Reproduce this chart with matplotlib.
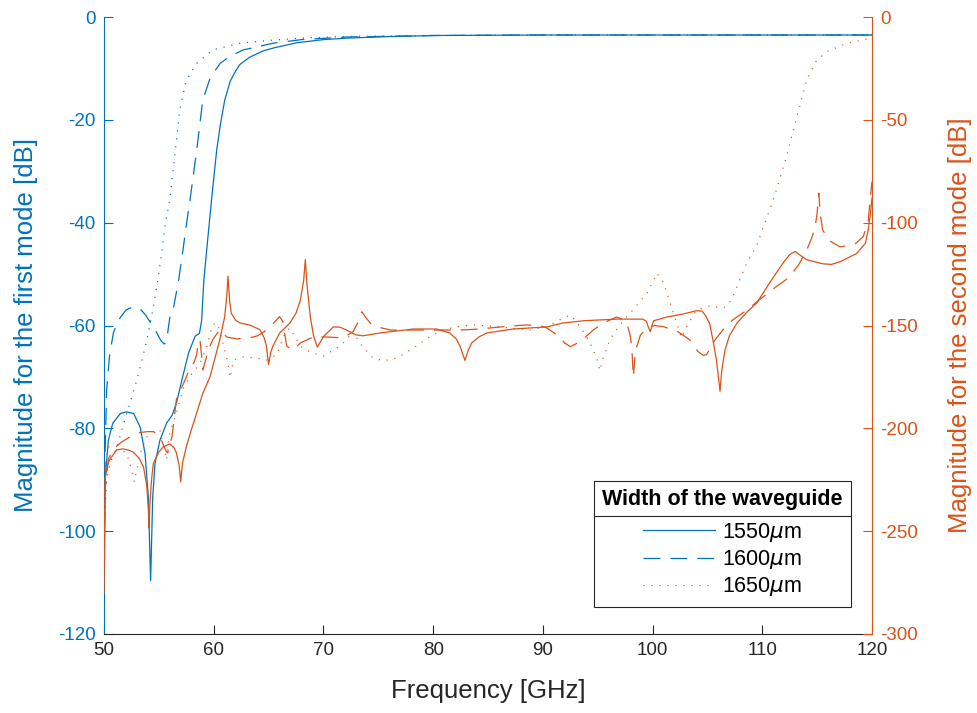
import matplotlib
matplotlib.use('Agg')
import matplotlib.pyplot as plt
from matplotlib.lines import Line2D

plt.rcParams['font.family'] = ['Liberation Sans', 'DejaVu Sans']
plt.rcParams['axes.unicode_minus'] = False

# ---------------- data ----------------
# First mode (left axis, dB)
f1_1550 = [50.0, 50.1, 50.4, 50.8, 51.5, 52.07, 52.7, 53.3, 53.74, 54.04, 54.25, 54.44, 54.65,
           55.1, 55.7, 56.2, 56.6, 57.1, 57.7, 58.3, 58.7, 58.9, 59.1, 59.36, 59.8, 60.27, 60.6,
           61.0, 61.5, 62.0, 62.4, 63.3, 64.5, 65.5, 67.6, 70.0, 72.2, 76.0, 80.0, 90.0, 100.0,
           110.0, 120.0]
m1_1550 = [-118, -90, -82.3, -79, -77.1, -76.8, -77.1, -79.8, -84.9, -93.4, -109.6, -93.4, -86.8,
           -82.3, -79.0, -77.5, -75.1, -70.6, -65.4, -62.1, -61.5, -59, -51.2, -45.3, -35.6, -25.9,
           -21, -16.2, -12.5, -10.5, -9.2, -7.8, -6.6, -6.0, -5.0, -4.4, -4.1, -3.8, -3.6, -3.5,
           -3.5, -3.5, -3.5]

f1_1600 = [50.0, 50.1, 50.24, 50.5, 50.85, 51.2, 51.5, 52.0, 52.6, 53.0, 53.4, 53.8, 54.2, 54.6,
           54.9, 55.2, 55.5, 55.7, 56.0, 56.3, 56.8, 57.2, 57.5, 57.84, 58.45, 59.0, 59.7, 60.6,
           61.5, 62.7, 65.4, 68.0, 72.0, 80.0, 90.0, 100.0, 110.0, 120.0]
m1_1600 = [-95, -85, -72.6, -66, -61.5, -59.5, -58.4, -57.0, -56.4, -56.5, -57.0, -58, -59.3,
           -60.5, -61.8, -63.0, -63.6, -63.0, -58.4, -57.0, -51.2, -45.3, -40.5, -35.6, -25.9,
           -16.2, -11.7, -9.0, -7.6, -6.4, -5.1, -4.4, -3.9, -3.6, -3.5, -3.5, -3.5, -3.5]

f1_1650 = [50.0, 50.24, 50.6, 51.2, 51.6, 52.07, 52.65, 53.3, 53.9, 54.5, 54.9, 55.26, 55.6, 56.0,
           56.5, 56.9, 57.5, 58.45, 59.9, 62.4, 64.8, 68.0, 72.0, 80.0, 90.0, 100.0, 110.0, 120.0]
m1_1650 = [-100, -90, -86.5, -83.6, -80.5, -77.1, -73.2, -68.1, -62.9, -56.4, -51.2, -45.9, -40,
           -35.6, -25.9, -18.1, -12.3, -9.0, -6.4, -5.1, -4.6, -4.1, -3.8, -3.6, -3.5, -3.5,
           -3.5, -3.5]

# Second mode (right axis, dB)
f2_1550 = [50.0, 50.05, 50.1, 50.3, 50.55, 51.15, 51.7, 52.2, 52.65, 53.2, 53.6, 53.9, 54.05, 54.1,
           54.2, 54.35, 54.5, 55.0, 55.4, 56.0, 56.4, 56.6, 56.85, 56.99, 57.15, 57.5, 58.0, 58.45,
           59.0, 59.66, 60.55, 61.0, 61.2, 61.3, 61.45, 61.6, 62.0, 62.4, 63.3, 64.2, 64.6, 64.8,
           65.0, 65.2, 65.4, 66.0, 66.95, 67.5, 67.9, 68.2, 68.35, 68.5, 68.8, 69.1, 69.45, 70.0,
           70.9, 71.5, 72.1, 73.0, 73.6, 75.2, 78.2, 80.3, 81.5, 82.1, 82.45, 82.9, 83.2, 83.5,
           84.2, 84.9, 87.3, 90.35, 91.8, 93.7, 96.7, 99.1, 99.45, 99.6, 99.8, 99.95, 100.1,
           101.3, 102.8, 104.0, 104.5, 104.8, 105.2, 105.5, 105.8, 106.0, 106.15, 106.3, 106.6,
           107.0, 107.7, 108.6, 109.5, 110.7, 111.9, 112.5, 113.0, 113.5, 114.05, 115.5, 116.3,
           117.1, 118.6, 119.4, 119.65, 119.85, 120.0]
m2_1550 = [-280, -250, -225, -218, -215, -210.5, -210, -210.5, -211.5, -214.5, -218.8, -228, -240,
           -248.5, -235, -224, -217, -211.5, -209, -207.6, -209.5, -212, -218, -226, -217, -209,
           -200, -192.5, -183, -175, -157, -145.7, -135, -126, -138, -144, -147.5, -148.8, -149.8,
           -152, -156, -160, -169, -163, -160, -153.7, -148.8, -144, -137.6, -128, -118, -130,
           -145.7, -155, -160.5, -155.4, -150.7, -150.8, -152.2, -154.6, -155, -153.6, -151.7,
           -151.7, -153.6, -156.5, -160, -167, -162, -158.5, -155.5, -153.6, -151.7, -150.7,
           -148.8, -147.7, -146.9, -146.9, -148, -150.6, -153, -150, -147.7, -145.9, -144.4,
           -142.8, -143, -144.9, -149, -157, -166, -175, -182, -172, -162, -155, -148.8, -143.5,
           -139, -129, -119.6, -115.5, -114, -116, -118, -120, -120.3, -119, -115, -110, -103.6,
           -96, -88]

f2_1600 = [50.0, 50.1, 50.4, 50.8, 51.5, 52.2, 52.8, 53.3, 54.0, 54.5, 54.9, 55.3, 55.6, 55.8,
           56.0, 56.2, 56.4, 56.6, 57.1, 57.7, 58.2, 58.45, 58.6, 58.75, 58.9, 59.0, 59.2, 59.5,
           59.9, 60.55, 61.2, 62.1, 63.3, 64.0, 64.6, 65.1, 65.6, 66.0, 66.3, 66.5, 66.65, 67.2,
           67.9, 69.05, 70.3, 71.8, 72.7, 73.2, 73.5, 73.9, 74.3, 74.85, 76.1, 78.2, 80.6, 82.45,
           84.3, 86.1, 88.5, 89.7, 90.35, 91.3, 92.0, 92.5, 93.4, 94.6, 95.5, 96.7, 97.3, 97.7,
           97.95, 98.1, 98.25, 98.4, 98.55, 98.9, 99.5, 100.2, 101.0, 102.3, 103.4, 104.15, 104.6,
           104.9, 105.7, 106.4, 107.3, 108.6, 109.5, 111.3, 112.35, 113.3, 114.05, 114.5, 114.8,
           115.0, 115.15, 115.27, 115.5, 116.2, 117.1, 118.45, 119.2, 119.65, 119.9, 120.0]
m2_1600 = [-260, -230, -215, -210.5, -207, -204.7, -203, -202, -201.6, -201.6, -203, -206.5,
           -210.5, -212, -208, -204, -195, -186, -180, -172.5, -168, -164, -158, -157, -165,
           -171.6, -168, -162, -157, -152, -155.6, -156.5, -156, -155, -153, -151, -148, -145.7,
           -148, -155, -160, -162, -158.5, -155.6, -155.6, -156, -153, -148, -143.3, -146.4,
           -149, -150.6, -152.2, -152.2, -152.2, -152.2, -151.7, -150.7, -149.7, -150, -151.2,
           -154.6, -158.5, -160.3, -157.9, -152.2, -148.8, -145.9, -146.9, -149.7, -154.6,
           -160.3, -175, -165, -160.3, -154.6, -151.2, -150, -150.6, -153, -157, -162.7, -164.5,
           -164.3, -157, -152.2, -147.3, -142.5, -138.5, -131, -127, -120.6, -113.3, -107.5,
           -102.6, -95.3, -85.6, -95.3, -103.6, -109, -111.8, -110.4, -106.8, -99.5, -85, -80]

f2_1650 = [50.0, 50.1, 50.4, 51.15, 51.7, 52.07, 52.5, 52.76, 53.0, 53.4, 53.9, 54.65, 55.1, 55.4,
           55.7, 56.0, 56.6, 57.2, 57.8, 58.75, 59.35, 59.9, 60.3, 60.6, 61.0, 61.3, 61.5, 61.8,
           62.7, 63.9, 64.8, 65.75, 66.5, 66.95, 67.55, 68.1, 69.05, 70.0, 70.9, 71.5, 72.1, 72.7,
           73.3, 74.5, 75.5, 76.7, 78.2, 79.7, 80.9, 82.15, 83.6, 85.8, 88.8, 90.35, 91.85, 92.5,
           92.95, 93.7, 94.3, 94.9, 95.2, 95.5, 96.1, 97.0, 98.2, 99.5, 100.4, 101.0, 101.6,
           102.2, 102.65, 103.1, 104.0, 105.2, 106.45, 107.0, 107.5, 108.0, 108.6, 109.5, 110.1,
           111.0, 112.2, 113.15, 114.05, 114.96, 115.9, 117.7, 119.5, 120.0]
m2_1650 = [-240, -220, -209, -210.5, -211, -212, -220, -226, -220, -210.5, -204, -201, -200.8,
           -208, -215.4, -202, -192.5, -181, -175, -168.4, -160.3, -149.7, -148.8, -153.6, -162,
           -168.4, -175.5, -166.8, -165.3, -165.8, -166.8, -164.3, -153.6, -151.2, -157, -161,
           -163.4, -164.8, -162, -160, -157, -152.5, -158.5, -165.8, -167.2, -165.8, -161,
           -155.4, -152.2, -150.6, -149.7, -150.6, -152.2, -150.6, -146.4, -144.9, -147.3, -153,
           -158.5, -165.8, -172, -165.8, -157, -149.7, -142.5, -134.2, -124.5, -129.3, -139,
           -148.8, -156, -150.6, -142.5, -140.5, -141.5, -139, -134, -127, -119.6, -111, -102,
           -89, -68, -48.5, -30.6, -21, -16.8, -12.8, -10.8, -10]

labels = ['1550$\\mu$m', '1600$\\mu$m', '1650$\\mu$m']
legend_title = 'Width of the waveguide'
xticks = [50, 60, 70, 80, 90, 100, 110, 120]
yticks_left = [0, -20, -40, -60, -80, -100, -120]
yticks_right = [0, -50, -100, -150, -200, -250, -300]

# ---------------- styling ----------------
BLUE = '#0072BD'
ORANGE = '#D95319'
DARK = '#262626'
LW = 0.9
styles = [dict(linestyle='-'),
          dict(linestyle=(0, (13.5, 8.0))),
          dict(linestyle=(0, (0.9, 5.5)))]

fig = plt.figure(figsize=(9.77, 7.13), dpi=100)
ax = fig.add_axes([104/977, 1-634/713, (872-104)/977, (634-17)/713])
ax2 = ax.twinx()

series1 = [(f1_1550, m1_1550), (f1_1600, m1_1600), (f1_1650, m1_1650)]
series2 = [(f2_1550, m2_1550), (f2_1600, m2_1600), (f2_1650, m2_1650)]

handles = []
for (x, y), st, lab in zip(series1, styles, labels):
    h, = ax.plot(x, y, color=BLUE, lw=LW, label=lab, **st)
    handles.append(h)
for (x, y), st in zip(series2, styles):
    ax2.plot(x, y, color=ORANGE, lw=LW, **st)

ax.set_xlim(50, 120)
ax.set_ylim(-120, 0)
ax2.set_ylim(-300, 0)
ax.set_xticks(xticks)
ax.set_yticks(yticks_left)
ax2.set_yticks(yticks_right)

FS_TICK = 13.5
FS_LAB = 18.5
FS_LEG = 15.5

ax.tick_params(axis='x', direction='in', length=6.5, width=0.8, colors=DARK,
               labelsize=FS_TICK, pad=6)
ax.tick_params(axis='y', direction='in', length=6.5, width=0.8, colors=BLUE,
               labelsize=FS_TICK, pad=6)
ax2.tick_params(axis='y', direction='in', length=6.5, width=0.8, colors=ORANGE,
                labelsize=FS_TICK, pad=6)

for a in (ax, ax2):
    a.spines['top'].set_visible(False)
    a.spines['bottom'].set_color(DARK)
    a.spines['left'].set_color(BLUE)
    a.spines['right'].set_color(ORANGE)
    for s in a.spines.values():
        s.set_linewidth(0.8)
ax2.spines['bottom'].set_visible(False)
ax2.spines['left'].set_visible(False)
ax.spines['right'].set_visible(False)

ax.set_xlabel('Frequency [GHz]', fontsize=FS_LAB, color=DARK, labelpad=14)
ax.set_ylabel('Magnitude for the first mode [dB]', fontsize=FS_LAB, color=BLUE, labelpad=14.5)
ax2.set_ylabel('Magnitude for the second mode [dB]', fontsize=FS_LAB, color=ORANGE,
               labelpad=21.5)

leg = ax2.legend(handles=handles, labels=labels, title=legend_title,
                 loc='lower right', bbox_to_anchor=(0.973, 0.0438),
                 bbox_transform=ax.transAxes, borderaxespad=0.0,
                 fontsize=FS_LEG, title_fontproperties={'weight': 'bold', 'size': FS_LEG},
                 handlelength=3.35, handletextpad=0.3, labelspacing=0.2,
                 fancybox=False, framealpha=1.0, edgecolor=DARK, borderpad=0.4)
leg.get_frame().set_linewidth(0.8)
# extra space between title and entries (room for the separator line)
leg._legend_box.sep = 7.4

# separator line between the legend title and the entries
fig.canvas.draw()
r = fig.canvas.get_renderer()
lbb = leg.get_window_extent(r)
tbb = leg.get_title().get_window_extent(r)
hbb = leg._legend_handle_box.get_window_extent(r)
inv = fig.transFigure.inverted()
ysep = 0.5 * (tbb.y0 + hbb.y1)
(x0, y0), (x1, _) = inv.transform([(lbb.x0, ysep), (lbb.x1, ysep)])
fig.add_artist(Line2D([x0, x1], [y0, y0], transform=fig.transFigure, color=DARK, lw=0.8))

fig.savefig('out.png', dpi=100)
